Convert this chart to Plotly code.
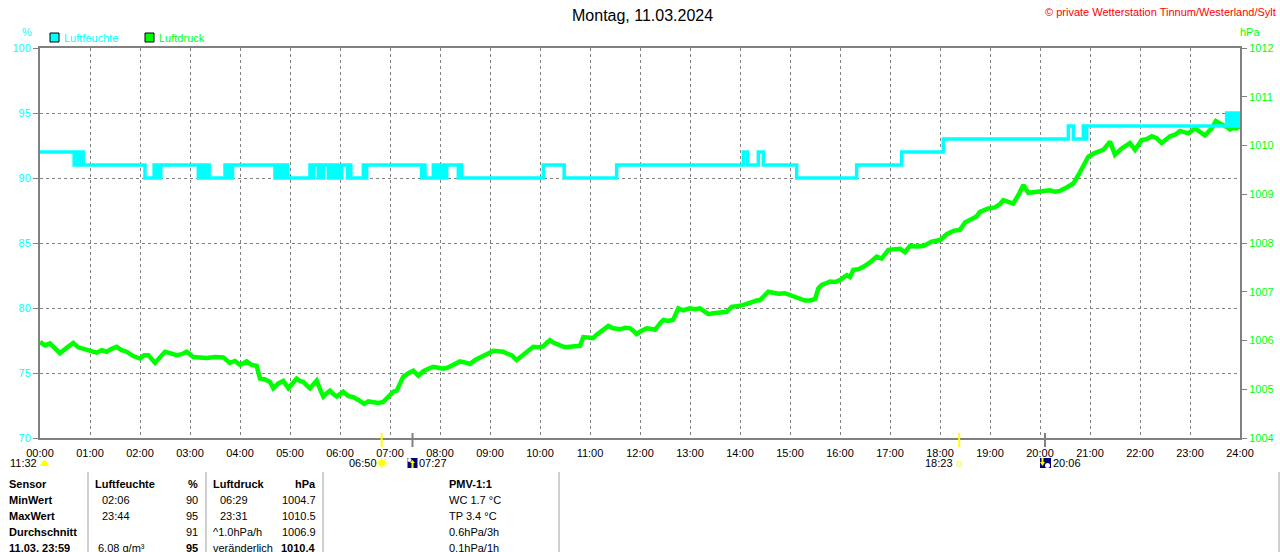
import plotly.graph_objects as go

# ---------------- data ----------------
title_text = "Montag, 11.03.2024"
copyright_text = "© private Wetterstation Tinnum/Westerland/Sylt"

hum_times = ["00:00", "00:41", "00:43", "00:45", "00:47", "00:49", "00:51", "00:52",
             "02:06", "02:17", "02:19", "02:21", "02:23", "02:25",
             "03:10", "03:12", "03:14", "03:16", "03:18", "03:21", "03:23",
             "03:42", "03:44", "03:46", "03:48", "03:51",
             "04:42", "04:44", "04:46", "04:48", "04:51", "04:54", "04:57",
             "05:24", "05:26", "05:28", "05:34", "05:36", "05:38", "05:40", "05:46",
             "05:50", "05:52", "05:54", "05:56", "05:58", "06:00", "06:02", "06:09",
             "06:11", "06:13", "06:28", "06:30", "06:32",
             "07:38", "07:40", "07:42", "07:52", "07:55", "07:58", "08:00", "08:03",
             "08:05", "08:08", "08:22", "08:24", "08:26",
             "10:04", "10:29", "11:32", "14:04", "14:09", "14:22", "14:28", "15:08",
             "16:20", "17:14", "18:04", "20:34", "20:40", "20:52", "20:54", "20:56",
             "23:44", "23:46", "23:48", "23:50", "23:52", "23:54", "23:56", "23:58", "24:00"]
hum_values = [92, 91, 92, 91, 92, 91, 92, 91,
              90, 91, 90, 91, 90, 91,
              90, 91, 90, 91, 90, 91, 90,
              91, 90, 91, 90, 91,
              90, 91, 90, 91, 90, 91, 90,
              91, 90, 91, 90, 91, 90, 91, 90,
              91, 90, 91, 90, 91, 90, 91, 90,
              91, 90, 91, 90, 91,
              90, 91, 90, 91, 90, 91, 90, 91,
              90, 91, 90, 91, 90,
              91, 90, 91, 92, 91, 92, 91, 90,
              91, 92, 93, 94, 93, 94, 93, 94,
              95, 94, 95, 94, 95, 94, 95, 94, 95]

press_times = ["00:00", "00:06", "00:12", "00:18", "00:24", "00:32", "00:40", "00:46", "00:52",
               "01:00", "01:08", "01:14", "01:20", "01:26", "01:32", "01:38", "01:44", "01:52",
               "02:00", "02:05", "02:10", "02:18", "02:24", "02:30", "02:36", "02:44", "02:50", "02:56",
               "03:04", "03:12", "03:20", "03:30", "03:40", "03:48", "03:54",
               "04:00", "04:08", "04:14", "04:20", "04:24", "04:30", "04:36", "04:40", "04:46", "04:52", "04:58",
               "05:04", "05:08", "05:12", "05:16", "05:20", "05:24", "05:28", "05:32", "05:36", "05:40",
               "05:44", "05:48", "05:52", "05:56",
               "06:00", "06:04", "06:10", "06:16", "06:22", "06:29", "06:34", "06:40", "06:46", "06:52", "06:56",
               "07:00", "07:04", "07:08", "07:12", "07:16", "07:22", "07:28", "07:34", "07:40", "07:46", "07:52", "07:58",
               "08:04", "08:10", "08:16", "08:24", "08:30", "08:36", "08:42", "08:48", "08:56",
               "09:04", "09:10", "09:16", "09:22", "09:26", "09:32", "09:36", "09:40", "09:46", "09:52", "09:58",
               "10:04", "10:08", "10:12", "10:16", "10:20", "10:24", "10:30", "10:38", "10:48", "10:52", "10:58",
               "11:04", "11:08", "11:12", "11:18", "11:22", "11:28", "11:36", "11:42", "11:48", "11:52", "11:56",
               "12:02", "12:08", "12:12", "12:18", "12:24", "12:28", "12:34", "12:40", "12:46", "12:52",
               "13:00", "13:06", "13:12", "13:18", "13:22", "13:28", "13:32", "13:38", "13:44", "13:50", "13:56",
               "14:02", "14:08", "14:14", "14:20", "14:24", "14:30", "14:34", "14:40", "14:46", "14:54",
               "15:02", "15:08", "15:12", "15:18", "15:24", "15:30", "15:34", "15:38", "15:44", "15:48", "15:54",
               "16:00", "16:08", "16:12", "16:16", "16:22", "16:28", "16:36", "16:44", "16:50", "16:58",
               "17:04", "17:12", "17:18", "17:24", "17:32", "17:40", "17:50",
               "18:00", "18:08", "18:16", "18:24", "18:30", "18:38", "18:44", "18:48", "18:54", "18:58",
               "19:06", "19:12", "19:16", "19:22", "19:28", "19:34", "19:40", "19:46", "19:52",
               "20:00", "20:06", "20:12", "20:18", "20:24", "20:32", "20:40", "20:46", "20:52", "20:58",
               "21:06", "21:16", "21:24", "21:30", "21:38", "21:48", "21:54",
               "22:02", "22:08", "22:14", "22:20", "22:26", "22:36", "22:42", "22:48", "22:58",
               "23:06", "23:12", "23:18", "23:26", "23:31", "23:36", "23:40", "23:44", "23:48", "23:52", "23:56", "24:00"]
press_values = [1005.97, 1005.90, 1005.94, 1005.85, 1005.74, 1005.85, 1005.95, 1005.86, 1005.83,
                1005.80, 1005.75, 1005.80, 1005.77, 1005.83, 1005.87, 1005.80, 1005.77, 1005.68,
                1005.63, 1005.70, 1005.70, 1005.54, 1005.66, 1005.77, 1005.74, 1005.70, 1005.72, 1005.77,
                1005.66, 1005.65, 1005.64, 1005.66, 1005.65, 1005.54, 1005.58,
                1005.50, 1005.57, 1005.50, 1005.48, 1005.22, 1005.20, 1005.15, 1005.02, 1005.12, 1005.17, 1005.02,
                1005.14, 1005.22, 1005.17, 1005.15, 1005.08, 1005.02, 1005.10, 1005.18, 1005.00, 1004.85,
                1004.92, 1004.97, 1004.90, 1004.85,
                1004.90, 1004.95, 1004.86, 1004.84, 1004.78, 1004.70, 1004.75, 1004.74, 1004.72, 1004.74, 1004.80,
                1004.88, 1004.95, 1004.97, 1005.10, 1005.26, 1005.33, 1005.38, 1005.28, 1005.37, 1005.42, 1005.46, 1005.44,
                1005.42, 1005.45, 1005.50, 1005.57, 1005.55, 1005.52, 1005.60, 1005.66, 1005.72,
                1005.79, 1005.78, 1005.77, 1005.72, 1005.70, 1005.60, 1005.65, 1005.71, 1005.80, 1005.87, 1005.86,
                1005.88, 1005.95, 1006.01, 1005.96, 1005.94, 1005.90, 1005.86, 1005.88, 1005.89, 1006.07, 1006.05,
                1006.05, 1006.12, 1006.18, 1006.25, 1006.30, 1006.25, 1006.23, 1006.26, 1006.25, 1006.20, 1006.13,
                1006.20, 1006.25, 1006.24, 1006.22, 1006.35, 1006.42, 1006.40, 1006.43, 1006.66, 1006.62,
                1006.66, 1006.64, 1006.66, 1006.60, 1006.54, 1006.56, 1006.57, 1006.58, 1006.59, 1006.69, 1006.70,
                1006.72, 1006.75, 1006.79, 1006.82, 1006.83, 1006.92, 1007.00, 1006.98, 1006.96, 1006.97,
                1006.92, 1006.88, 1006.85, 1006.82, 1006.82, 1006.85, 1007.07, 1007.14, 1007.18, 1007.21, 1007.20,
                1007.24, 1007.34, 1007.30, 1007.45, 1007.46, 1007.51, 1007.60, 1007.72, 1007.68, 1007.86,
                1007.87, 1007.88, 1007.81, 1007.94, 1007.93, 1007.94, 1008.03,
                1008.06, 1008.18, 1008.25, 1008.27, 1008.42, 1008.49, 1008.55, 1008.64, 1008.68, 1008.71,
                1008.73, 1008.80, 1008.88, 1008.84, 1008.81, 1008.98, 1009.19, 1009.03, 1009.04,
                1009.05, 1009.06, 1009.08, 1009.05, 1009.07, 1009.14, 1009.22, 1009.39, 1009.60, 1009.77,
                1009.85, 1009.91, 1010.08, 1009.81, 1009.94, 1010.05, 1009.91,
                1010.11, 1010.13, 1010.19, 1010.15, 1010.05, 1010.19, 1010.22, 1010.30, 1010.25,
                1010.35, 1010.28, 1010.21, 1010.35, 1010.50, 1010.45, 1010.42, 1010.38, 1010.33, 1010.36, 1010.35, 1010.40]

hour_labels = ["00:00", "01:00", "02:00", "03:00", "04:00", "05:00", "06:00", "07:00", "08:00",
               "09:00", "10:00", "11:00", "12:00", "13:00", "14:00", "15:00", "16:00", "17:00",
               "18:00", "19:00", "20:00", "21:00", "22:00", "23:00", "24:00"]
hum_ticks = [70, 75, 80, 85, 90, 95, 100]
press_ticks = [1004, 1005, 1006, 1007, 1008, 1009, 1010, 1011, 1012]

moon_culmination = "11:32"
sunrise = "06:50"
moonrise = "07:27"
sunset = "18:23"
moonset = "20:06"

table_rows = ["Sensor", "MinWert", "MaxWert", "Durchschnitt", "11.03. 23:59"]
hum_col_left = ["<b>Luftfeuchte</b>", "02:06", "23:44", "", "6.08 g/m³"]
hum_col_right = ["<b>%</b>", "90", "95", "91", "<b>95</b>"]
press_col_left = ["<b>Luftdruck</b>", "06:29", "23:31", "^1.0hPa/h", "veränderlich"]
press_col_right = ["<b>hPa</b>", "1004.7", "1010.5", "1006.9", "<b>1010.4</b>"]
pmv_col = ["<b>PMV-1:1</b>", "WC 1.7 °C", "TP 3.4 °C", "0.6hPa/3h", "0.1hPa/1h"]

# ---------------- styling ----------------
CYAN = "#00FFFF"
GREEN = "#00FF00"
GRAY = "#808080"
FONT = "Liberation Sans"
L, R, T, B = 40, 40, 48, 114
W, H = 1280, 552
PW, PH = W - L - R, H - T - B


def hrs(t):
    h, m = t.split(":")
    return int(h) + int(m) / 60.0


def fx(x):  # pixel -> paper
    return (x - L) / PW


def fy(y):
    return (H - B - y) / PH


def tx(t):  # time -> pixel x
    return L + hrs(t) / 24.0 * PW


fig = go.Figure()

fig.add_trace(go.Scatter(x=[hrs(t) for t in press_times], y=press_values, mode="lines",
                         line=dict(color=GREEN, width=4.5), yaxis="y", name="Luftdruck",
                         hoverinfo="skip"))
fig.add_trace(go.Scatter(x=[hrs(t) for t in hum_times], y=hum_values, mode="lines",
                         line=dict(color=CYAN, width=3.5, shape="hv"), yaxis="y2", name="Luftfeuchte",
                         hoverinfo="skip"))

ann = []
shapes = []


def text(x, y, s, color="black", size=11, anchor="left"):
    ann.append(dict(x=fx(x), y=fy(y), xref="paper", yref="paper", text=s, showarrow=False,
                    xanchor=anchor, yanchor="middle", borderpad=0,
                    font=dict(family=FONT, size=size, color=color)))


def line(x0, y0, x1, y1, color, width=1):
    shapes.append(dict(type="line", xref="paper", yref="paper", x0=fx(x0), y0=fy(y0), x1=fx(x1), y1=fy(y1),
                       line=dict(color=color, width=width)))


def rect(x0, y0, x1, y1, fill, lc=None, lw=0):
    shapes.append(dict(type="rect", xref="paper", yref="paper", x0=fx(x0), y0=fy(y0), x1=fx(x1), y1=fy(y1),
                       fillcolor=fill, line=dict(color=lc or fill, width=lw)))


def path(pts, fill, lc=None, lw=0):
    d = "M " + " L ".join(f"{fx(a):.5f},{fy(b):.5f}" for a, b in pts) + " Z"
    shapes.append(dict(type="path", xref="paper", yref="paper", path=d, fillcolor=fill,
                       line=dict(color=lc or fill, width=lw)))


# title & header texts
text(642, 15, title_text, size=16, anchor="center")
text(1277, 12, copyright_text, color="#FF0000", size=11, anchor="right")
text(27, 32, "%", color=CYAN, size=11, anchor="center")
text(1250, 32, "hPa", color=GREEN, size=11, anchor="center")

# legend
rect(50, 33, 59, 42, CYAN, "black", 1)
text(63, 38, "Luftfeuchte", color=CYAN)
rect(145, 33, 154, 42, GREEN, "black", 1)
text(158, 38, "Luftdruck", color=GREEN)

# event ticks on the time axis
for t, c in [(sunrise, "#FFFF00"), (sunset, "#FFFF00"), (moonrise, GRAY), (moonset, GRAY)]:
    line(tx(t), 433, tx(t), 447, c, 2)

# moon culmination (dome icon)
dome = f"M {fx(40):.5f},{fy(466):.5f} Q {fx(44.5):.5f},{fy(455):.5f} {fx(49):.5f},{fy(466):.5f} Z"
shapes.append(dict(type="path", xref="paper", yref="paper", path=dome, fillcolor="#FFFF00",
                   line=dict(color="#FFFF00", width=0)))
text(38, 463, moon_culmination, anchor="right")

# sunrise
xs = tx(sunrise)
text(xs - 4, 463, sunrise, anchor="right")
shapes.append(dict(type="circle", xref="paper", yref="paper", x0=fx(xs - 3.5), x1=fx(xs + 3.5),
                   y0=fy(459.5), y1=fy(466.5), fillcolor="#FFFF00", line=dict(color="#FFFF00", width=0)))
for dx, dy in [(-5, 0), (5, 0), (0, -5), (0, 5), (-4, -4), (4, -4), (-4, 4), (4, 4)]:
    line(xs + dx * 0.6, 463 + dy * 0.6, xs + dx, 463 + dy, "#FFFF00", 1)

# moonrise
xm = tx(moonrise)
rect(xm - 5, 458, xm + 5, 468, "#000080")
shapes.append(dict(type="circle", xref="paper", yref="paper", x0=fx(xm - 5), x1=fx(xm - 1),
                   y0=fy(462), y1=fy(458), fillcolor="white", line=dict(color="white", width=0)))
path([(xm, 460), (xm + 2.5, 463), (xm + 1, 463), (xm + 1, 468), (xm - 1, 468), (xm - 1, 463), (xm - 2.5, 463)], "#FFFF00")
text(xm + 5, 463, moonrise, anchor="left")

# sunset
xss = tx(sunset)
text(xss - 5, 463, sunset, anchor="right")
rect(xss - 2, 462, xss + 2, 466, "rgba(0,0,0,0)", "#FFFF00", 1)

# moonset
xms = tx(moonset)
rect(xms - 5, 458, xms + 6, 468, "#000080")
shapes.append(dict(type="circle", xref="paper", yref="paper", x0=fx(xms), x1=fx(xms + 5),
                   y0=fy(468), y1=fy(463), fillcolor="white", line=dict(color="white", width=0)))
path([(xms - 3.5, 458), (xms - 1.5, 458), (xms - 1.5, 462), (xms, 462), (xms - 2.5, 466), (xms - 5, 462), (xms - 3.5, 462)], "#FFFF00")
text(xms + 7, 463, moonset, anchor="left")

# table
row_y = [484, 500, 516, 532, 548]
for i, y in enumerate(row_y):
    text(8, y, "<b>" + table_rows[i] + "</b>")
    text(94 if i == 0 else (97 if i == 4 else 101), y, hum_col_left[i])
    text(199, y, hum_col_right[i], anchor="right")
    text(212 if i in (0, 3, 4) else 219, y, press_col_left[i])
    text(317, y, press_col_right[i], anchor="right")
    text(448, y, pmv_col[i])
for xv in [88, 206, 323, 559, 1279]:
    line(xv, 472, xv, 553, "#A0A0A0", 1)

fig.update_layout(
    width=W, height=H,
    margin=dict(l=L, r=R, t=T, b=B, pad=0, autoexpand=False),
    paper_bgcolor="white", plot_bgcolor="white",
    showlegend=False,
    font=dict(family=FONT, size=11, color="black"),
    xaxis=dict(range=[0, 24], tickmode="array", tickvals=list(range(25)), ticktext=hour_labels,
               showgrid=True, gridcolor=GRAY, gridwidth=1, griddash="3px,3px", automargin=False,
               showline=True, linecolor=GRAY, linewidth=2, mirror=True, zeroline=False,
               ticks="", ticklabelstandoff=4,
               tickfont=dict(family=FONT, size=11, color="black"), fixedrange=True),
    yaxis=dict(range=[1004, 1012], tickmode="array", tickvals=press_ticks, side="right", automargin=False,
               showgrid=False, zeroline=False, showline=True, linecolor=GRAY, linewidth=2,
               ticks="outside", ticklen=5, tickcolor=GRAY, tickwidth=1,
               tickfont=dict(family=FONT, size=11, color=GREEN)),
    yaxis2=dict(range=[70, 100], tickmode="array", tickvals=hum_ticks, side="left", overlaying="y",
                showgrid=True, gridcolor=GRAY, gridwidth=1, griddash="3px,3px", zeroline=False,
                showline=True, linecolor=GRAY, linewidth=2, automargin=False,
                ticks="outside", ticklen=5, tickcolor=GRAY, tickwidth=1,
                tickfont=dict(family=FONT, size=11, color=CYAN)),
    annotations=ann,
    shapes=shapes,
)

fig.write_html("out.html", config={"displayModeBar": False},
               post_script="document.body.style.margin='0px';document.body.style.overflow='hidden';")
